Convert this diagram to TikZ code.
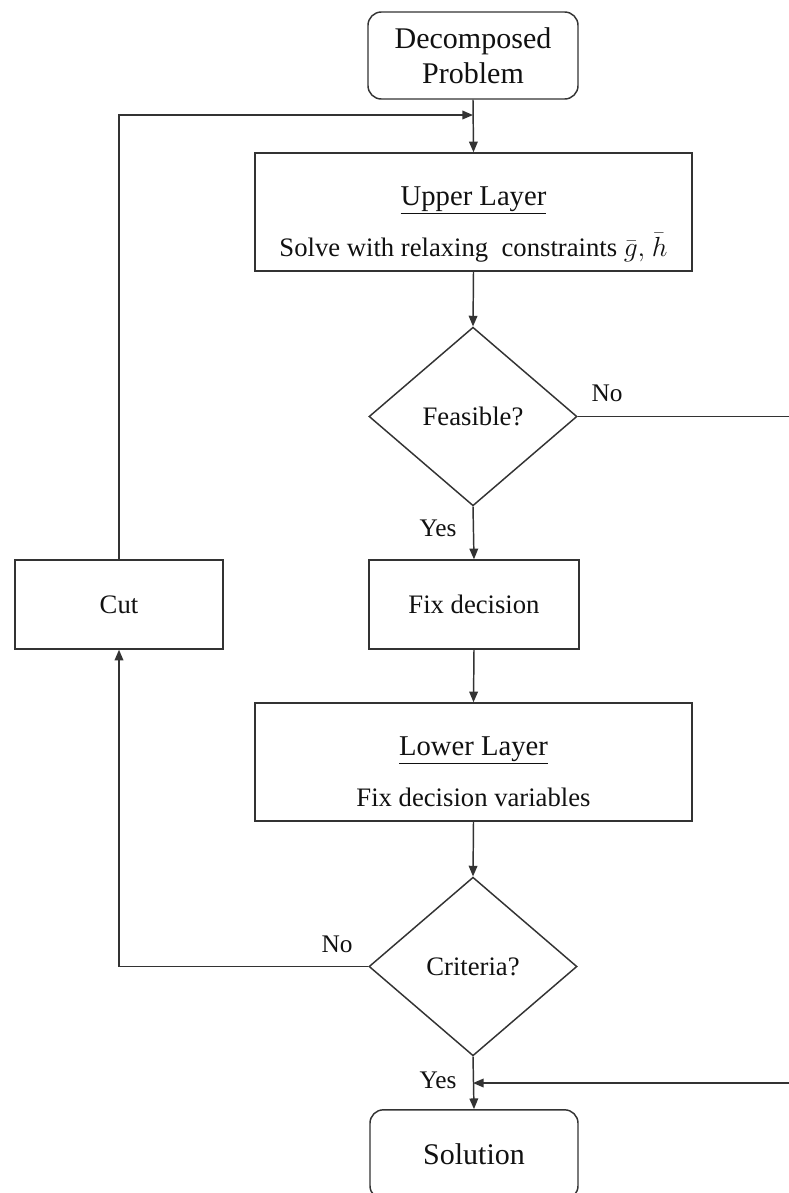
\documentclass[tikz,border=0pt]{standalone}
\usepackage{fontspec}
\setmainfont{Liberation Serif}
\usetikzlibrary{shapes.geometric,arrows.meta}
\definecolor{linegray}{HTML}{333333}
\definecolor{txt}{HTML}{111111}

\begin{document}
\begin{tikzpicture}[x=0.75pt,y=-0.75pt,
  line/.style={draw=linegray,line width=1.1pt},
  flow/.style={line,-{Triangle[length=8pt,width=6.5pt]}},
  box/.style={draw=linegray,line width=1.1pt,rectangle,inner sep=0pt,text=txt},
  rbox/.style={box,rounded corners=10pt},
  decision/.style={draw=linegray,line width=1.1pt,diamond,inner sep=0pt,
    minimum width=156pt,minimum height=134pt,text=txt},
  big/.style={font=\fontsize{22.5}{26.25}\selectfont,text=txt,align=center},
  title/.style={font=\fontsize{21.5}{25}\selectfont,text=txt,anchor=base},
  body/.style={font=\fontsize{20}{24}\selectfont,text=txt},
  tag/.style={font=\fontsize{19}{22}\selectfont,text=txt}
]
\clip (0,0) rectangle (789,1193);
\fill[white] (0,0) rectangle (789,1193);

% boxes and decisions
\node[rbox,big,minimum width=157.5pt,minimum height=65.25pt] (dec) at (473,55.5)
  {Decomposed\\Problem};
\node[box,minimum width=327.75pt,minimum height=88.5pt] (upper) at (473.5,212) {};
\node[title] (upperTitle) at (473.5,205) {\underline{Upper Layer}};
\node[body,anchor=base] (upperBody) at (473.5,256)
  {Solve with relaxing\ \ constraints $\bar{g}\mathrm{,}\ \bar{h}$};

\node[decision,body] (feas) at (473,416.5) {Feasible?};
\node[box,body,minimum width=157.5pt,minimum height=66.75pt] (fix) at (474,604.5) {Fix decision};

\node[box,minimum width=327.75pt,minimum height=88.5pt] (lower) at (473.5,762) {};
\node[title] (lowerTitle) at (473.5,755) {\underline{Lower Layer}};
\node[body,anchor=base] (lowerBody) at (473.5,806) {Fix decision variables};

\node[decision,body] (crit) at (473,966.5) {Criteria?};
\node[rbox,big,minimum width=156pt,minimum height=67pt] (sol) at (474,1154.5) {Solution};

\node[box,body,minimum width=156pt,minimum height=66.75pt] (cut) at (119,604.5) {Cut};

% junction points on the main column
\coordinate (joinTop) at (473,115);
\coordinate (joinBot) at (473,1083);

% connectors
\draw[flow] (dec.south) -- (upper.north);
\draw[flow] (cut.north) |- (joinTop);
\draw[flow] (upper.south) -- (feas.north);
\draw[flow] (feas.south) -- (fix.north);
\draw[flow] (fix.south) -- (lower.north);
\draw[flow] (lower.south) -- (crit.north);
\draw[flow] (crit.west) -| (cut.south);
\draw[flow] (crit.south) -- (sol.north);
\draw[flow] (feas.east) -- (830,416.5) |- (joinBot);

% branch labels
\node[tag] (noTop) at (607,393) {No};
\node[tag] (yesTop) at (438,528) {Yes};
\node[tag] (noBot) at (337,944) {No};
\node[tag] (yesBot) at (438,1080) {Yes};
\end{tikzpicture}
\end{document}
